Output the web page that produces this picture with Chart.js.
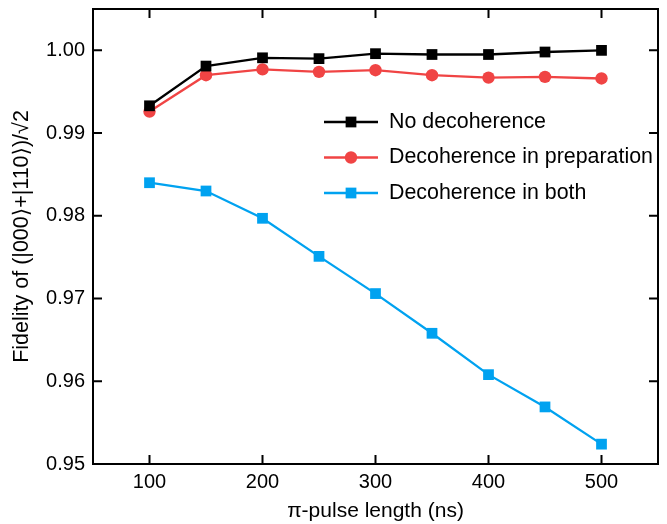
<!DOCTYPE html>
<html>
<head>
<meta charset="utf-8">
<script src="https://cdn.jsdelivr.net/npm/chart.js@4.4.1/dist/chart.umd.min.js"></script>
<style>
  html, body { margin: 0; padding: 0; background: #fff; }
  #wrap { width: 667px; height: 524px; }
</style>
</head>
<body>
<div id="wrap"><canvas id="myChart" width="667" height="524"></canvas></div>
<script>
// pulse lengths (ns)
const pulseLengths = [100, 150, 200, 250, 300, 350, 400, 450, 500];
// fidelities
const noDecoherence = [0.9933, 0.9981, 0.9991, 0.9990, 0.9996, 0.9995, 0.9995, 0.9998, 1.0000];
const decoherencePrep = [0.9926, 0.9970, 0.9977, 0.9974, 0.9976, 0.9970, 0.9967, 0.9968, 0.9966];
const decoherenceBoth = [0.9840, 0.9830, 0.9797, 0.9751, 0.9706, 0.9658, 0.9608, 0.9569, 0.9524];

const xTicks = [100, 200, 300, 400, 500];
const yTicks = [0.95, 0.96, 0.97, 0.98, 0.99, 1.00];
const seriesNames = ["No decoherence", "Decoherence in preparation", "Decoherence in both"];

const FONT = "'Liberation Sans', Arial, 'DejaVu Sans', sans-serif";

function toPoints(ys) {
  return pulseLengths.map((x, i) => ({ x: x, y: ys[i] }));
}

// box frame with inward ticks on every side
const frame = {
  id: 'frame',
  afterDraw(chart) {
    const { ctx, chartArea: a, scales } = chart;
    const len = 9;
    ctx.save();
    ctx.strokeStyle = '#000';
    ctx.lineWidth = 2;
    ctx.strokeRect(a.left, a.top, a.right - a.left, a.bottom - a.top);
    ctx.beginPath();
    xTicks.forEach(v => {
      const px = scales.x.getPixelForValue(v);
      ctx.moveTo(px, a.bottom); ctx.lineTo(px, a.bottom - len);
      ctx.moveTo(px, a.top); ctx.lineTo(px, a.top + len);
    });
    yTicks.forEach(v => {
      const py = scales.y.getPixelForValue(v);
      ctx.moveTo(a.left, py); ctx.lineTo(a.left + len, py);
      ctx.moveTo(a.right, py); ctx.lineTo(a.right - len, py);
    });
    ctx.stroke();
    ctx.restore();
  }
};

// legend drawn inside the plot
const insideLegend = {
  id: 'insideLegend',
  afterDraw(chart) {
    const ctx = chart.ctx;
    const x0 = 324, x1 = 378, tx = 389;
    const rows = [122, 157.5, 193];
    ctx.save();
    chart.data.datasets.forEach((ds, i) => {
      const y = rows[i];
      const cx = (x0 + x1) / 2;
      ctx.strokeStyle = ds.borderColor;
      ctx.lineWidth = ds.borderWidth;
      ctx.beginPath();
      ctx.moveTo(x0, y); ctx.lineTo(x1, y);
      ctx.stroke();
      ctx.fillStyle = ds.pointBackgroundColor;
      if (ds.pointStyle === 'circle') {
        ctx.beginPath();
        ctx.arc(cx, y, ds.pointRadius, 0, Math.PI * 2);
        ctx.fill();
      } else {
        const s = ds.pointRadius * Math.SQRT1_2;
        ctx.fillRect(cx - s, y - s, 2 * s, 2 * s);
      }
      ctx.fillStyle = '#000';
      ctx.font = '21.4px ' + FONT;
      ctx.textBaseline = 'middle';
      ctx.textAlign = 'left';
      ctx.fillText(ds.label, tx, y);
    });
    ctx.restore();
  }
};

const colors = ['#000000', '#F04444', '#00A2F0'];
const series = [noDecoherence, decoherencePrep, decoherenceBoth];
const styles = ['rect', 'circle', 'rect'];
const radii = [7.6, 6.2, 7.6];

const myChartRef = document.getElementById('myChart').getContext('2d');
new Chart(myChartRef, {
  type: 'line',
  data: {
    datasets: series.map((ys, i) => ({
      label: seriesNames[i],
      data: toPoints(ys),
      borderColor: colors[i],
      backgroundColor: colors[i],
      pointBackgroundColor: colors[i],
      pointBorderWidth: 0,
      pointStyle: styles[i],
      pointRadius: radii[i],
      pointHoverRadius: radii[i],
      borderWidth: 2.3,
      tension: 0
    }))
  },
  options: {
    responsive: false,
    animation: false,
    events: [],
    layout: { padding: { top: 9, right: 9, left: 0, bottom: 0 } },
    plugins: {
      legend: { display: false },
      tooltip: { enabled: false }
    },
    scales: {
      x: {
        type: 'linear',
        min: 50,
        max: 550,
        grid: { display: false, drawTicks: false },
        border: { display: false },
        afterBuildTicks: s => { s.ticks = xTicks.map(v => ({ value: v })); },
        afterFit: s => { s.height = 60; s.paddingLeft = 0; s.paddingRight = 0; },
        ticks: {
          color: '#000',
          padding: 6,
          font: { family: FONT, size: 20 },
          maxRotation: 0
        },
        title: {
          display: true,
          text: 'π-pulse length (ns)',
          color: '#000',
          font: { family: FONT, size: 21 },
          padding: { top: 0, bottom: 0 }
        }
      },
      y: {
        type: 'linear',
        min: 0.95,
        max: 1.005,
        grid: { display: false, drawTicks: false },
        border: { display: false },
        afterBuildTicks: s => { s.ticks = yTicks.map(v => ({ value: v })); },
        afterFit: s => { s.width = 93; s.paddingTop = 0; s.paddingBottom = 0; },
        ticks: {
          color: '#000',
          padding: 8,
          font: { family: FONT, size: 20 },
          callback: v => v.toFixed(2)
        },
        title: {
          display: true,
          text: 'Fidelity of (|000⟩+|110⟩)/√2',
          color: '#000',
          font: { family: FONT, size: 21.5 },
          padding: { top: 9, bottom: 0 }
        }
      }
    }
  },
  plugins: [frame, insideLegend]
});
</script>
</body>
</html>
